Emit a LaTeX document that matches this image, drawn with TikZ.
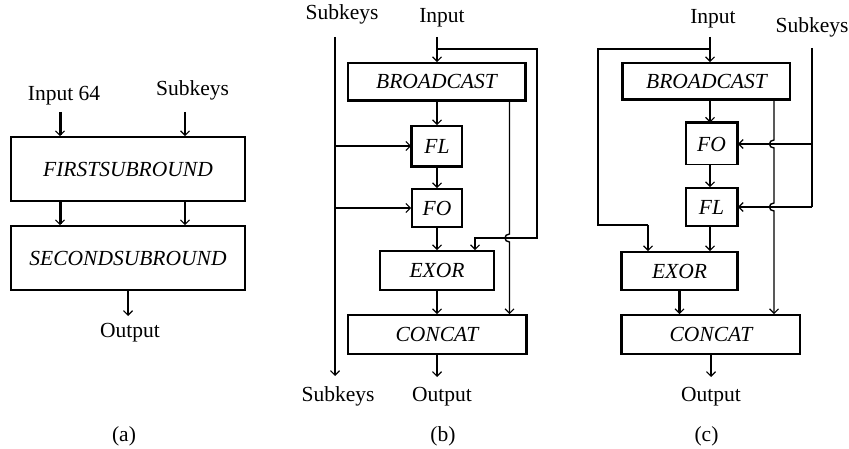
\documentclass[tikz,border=0pt]{standalone}
\usepackage{fontspec}
\setmainfont{Liberation Serif}
\usetikzlibrary{arrows.meta}
\begin{document}
\begin{tikzpicture}[x=1pt,y=-1pt,
  wire/.style={line width=1.4pt},
  arr/.style={wire,-{Straight Barb[length=4.5pt,width=9pt,line width=1.2pt]}},
  thickarr/.style={arr,line width=3pt},
  heavy/.style={line width=2.6pt},
  blk/.style={draw,line width=1.6pt,inner sep=0pt,font=\fontsize{21.5}{24}\selectfont\itshape},
  lbl/.style={font=\fontsize{21.5}{24}\selectfont,inner sep=0pt,anchor=base}]
\useasboundingbox (0,0) rectangle (849,449);
% ---------- panel (a)
\node[blk,minimum width=234pt,minimum height=64pt] (FSR) at (128,169) {FIRSTSUBROUND};
\node[blk,minimum width=234pt,minimum height=64pt] (SSR) at (128,258) {SECONDSUBROUND};
\node[lbl] (inA) at (64,101) {Input 64};
\node[lbl] (skA) at (192.5,96) {Subkeys};
\node[lbl] (outA) at (130,337) {Output};
\node[lbl] (la) at (124,441) {(a)};
\coordinate (a1) at (60,112);
\coordinate (a2) at (185,112);
\coordinate (a3) at (128,316);
\draw[thickarr] (a1) -- (a1 |- FSR.north);
\draw[arr] (a2) -- (a2 |- FSR.north);
\draw[thickarr] (FSR.south -| a1) -- (SSR.north -| a1);
\draw[arr] (FSR.south -| a2) -- (SSR.north -| a2);
\draw[arr] (SSR.south -| a3) -- (a3);
% ---------- panel (b)
\node[blk,minimum width=177pt,minimum height=37pt] (BCb) at (436.5,81.5) {BROADCAST};
\node[blk,minimum width=50pt,minimum height=40pt] (FLb) at (437,146) {FL};
\node[blk,minimum width=50pt,minimum height=38pt] (FOb) at (437,208) {FO};
\node[blk,minimum width=114pt,minimum height=39pt] (EXb) at (437,270.5) {EXOR};
\node[blk,minimum width=178pt,minimum height=39pt] (CCb) at (437,334.5) {CONCAT};
\draw[heavy] (BCb.south west) -- (BCb.south east) -- (BCb.north east);
\draw[heavy] (FLb.north west) -- (FLb.south west) -- (FLb.south east);
\draw[heavy] (CCb.north east) -- (CCb.south east);
\node[lbl] (skb) at (342,20) {Subkeys};
\node[lbl] (inb) at (442,23) {Input};
\node[lbl] (skb2) at (338,401) {Subkeys};
\node[lbl] (outb) at (442,401) {Output};
\node[lbl] (lb) at (443,441) {(b)};
\coordinate (b0) at (335,37);
\coordinate (b1) at (335,376);
\draw[arr] (b0) -- (b1);
\draw[arr] (b0 |- FLb.west) -- (FLb.west);
\draw[arr] (b0 |- FOb.west) -- (FOb.west);
\coordinate (b2) at (437,37);
\draw[arr] (b2) -- (BCb.north -| b2);
\coordinate (b3) at (437,49);
\coordinate (b4) at (537,238);
\coordinate (b5) at (475,238);
\draw[arr] (b3) -| (b4) -- (b5) -- (b5 |- EXb.north);
\coordinate (b6) at (509.5,234);
\coordinate (b7) at (509.5,242);
\draw[arr] (BCb.south -| b6) -- (b6) .. controls (503.5,234) and (503.5,242) .. (b7) -- (CCb.north -| b7);
\draw[arr] (BCb.south -| FLb.north) -- (FLb.north);
\draw[arr] (FLb.south) -- (FOb.north);
\draw[arr] (FOb.south) -- (EXb.north);
\draw[arr] (EXb.south) -- (CCb.north);
\coordinate (b8) at (437,377);
\draw[arr] (CCb.south) -- (b8);
% ---------- panel (c)
\node[blk,minimum width=167pt,minimum height=36pt] (BCc) at (706.5,81) {BROADCAST};
\node[blk,minimum width=51pt,minimum height=41pt] (FOc) at (711.5,144) {FO};
\node[blk,minimum width=51pt,minimum height=38pt] (FLc) at (711.5,207) {FL};
\node[blk,minimum width=115pt,minimum height=38pt] (EXc) at (679.5,271) {EXOR};
\node[blk,minimum width=178pt,minimum height=39pt] (CCc) at (711,334.5) {CONCAT};
\draw[heavy] (BCc.north west) -- (BCc.south west) -- (BCc.south east);
\draw[heavy] (FOc.north west) -- (FOc.north east) -- (FOc.south east);
\draw[heavy] (FLc.north east) -- (FLc.south east);
\draw[heavy] (EXc.north west) -- (EXc.south west);
\draw[heavy] (EXc.north east) -- (EXc.south east);
\draw[heavy] (CCc.north west) -- (CCc.south west);
\node[lbl] (inc) at (713,24) {Input};
\node[lbl] (skc) at (812,33) {Subkeys};
\node[lbl] (outc) at (711,401) {Output};
\node[lbl] (lc) at (706.5,441) {(c)};
\coordinate (c0) at (710,37);
\draw[arr] (c0) -- (BCc.north -| c0);
\coordinate (c1) at (710,49);
\coordinate (c2) at (598,225);
\coordinate (c3) at (648,225);
\draw[wire] (c1) -| (c2) -- (c3);
\draw[arr,line width=2.2pt] (c3) -- (c3 |- EXc.north);
\coordinate (c4) at (812,48);
\coordinate (c5) at (812,207);
\draw[wire] (c4) -- (c5);
\draw[arr] (c4 |- FOc.east) -- (FOc.east);
\draw[arr] (c5) -- (FLc.east);
\coordinate (c6) at (774,140);
\coordinate (c7) at (774,148);
\coordinate (c8) at (774,203);
\coordinate (c9) at (774,211);
\draw[arr] (BCc.south -| c6) -- (c6) .. controls (768,140) and (768,148) .. (c7) -- (c8) .. controls (768,203) and (768,211) .. (c9) -- (CCc.north -| c9);
\draw[arr] (BCc.south -| c0) -- (FOc.north -| c0);
\draw[arr] (FOc.south -| c0) -- (FLc.north -| c0);
\draw[arr] (FLc.south -| c0) -- (EXc.north -| c0);
\draw[thickarr] (EXc.south) -- (CCc.north -| EXc.south);
\coordinate (c10) at (711,377);
\draw[arr] (CCc.south) -- (c10);
\end{tikzpicture}
\end{document}
